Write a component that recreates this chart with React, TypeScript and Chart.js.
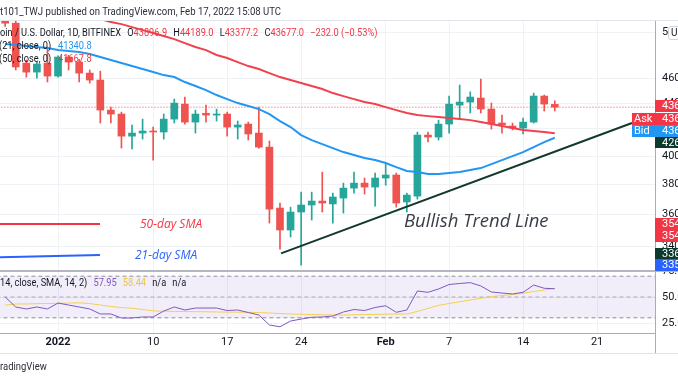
import React, { useEffect, useRef } from "react";
import { Chart, registerables } from "chart.js";

Chart.register(...registerables);

// ---------------- data ----------------
const dates = [
  "2021-12-27", "2021-12-28", "2021-12-29", "2021-12-30", "2021-12-31",
  "2022-01-01", "2022-01-02", "2022-01-03", "2022-01-04", "2022-01-05", "2022-01-06", "2022-01-07",
  "2022-01-08", "2022-01-09", "2022-01-10", "2022-01-11", "2022-01-12", "2022-01-13", "2022-01-14",
  "2022-01-15", "2022-01-16", "2022-01-17", "2022-01-18", "2022-01-19", "2022-01-20", "2022-01-21",
  "2022-01-22", "2022-01-23", "2022-01-24", "2022-01-25", "2022-01-26", "2022-01-27", "2022-01-28",
  "2022-01-29", "2022-01-30", "2022-01-31",
  "2022-02-01", "2022-02-02", "2022-02-03", "2022-02-04", "2022-02-05", "2022-02-06", "2022-02-07",
  "2022-02-08", "2022-02-09", "2022-02-10", "2022-02-11", "2022-02-12", "2022-02-13", "2022-02-14",
  "2022-02-15", "2022-02-16", "2022-02-17",
];

const open = [
  51500, 50800, 47280, 46520, 47280,
  46190, 47800, 47370, 46440, 45860, 43450, 43140,
  41460, 41690, 41840, 41770, 42750, 43920, 42520,
  43200, 43060, 43140, 42140, 42370, 41690, 40650,
  36430, 35020, 36170, 36630, 36890, 36700, 37090,
  37760, 38100, 37830,
  38450, 38660, 36830, 37220, 41540, 41390, 42370,
  43840, 44080, 44400, 43530, 42450, 42220, 42070,
  42520, 44560, 43896.9,
];
const high = [
  52100, 51000, 47540, 47370, 48660,
  47900, 47950, 47600, 46700, 46600, 43680, 43290,
  42300, 42750, 42140, 43140, 44320, 44480, 43450,
  43840, 43530, 43290, 42600, 42520, 43680, 41100,
  36760, 36490, 37490, 37490, 38860, 37420, 38100,
  38860, 38450, 38800,
  39500, 38800, 37420, 41760, 41760, 42670, 44560,
  45450, 44900, 45940, 44000, 43060, 42450, 42830,
  44800, 44640, 44189.0,
];
const low = [
  50500, 46700, 46100, 46020, 45700,
  46100, 46700, 45700, 45610, 42450, 42450, 40580,
  40510, 41240, 39710, 41240, 42450, 42370, 41690,
  42520, 42600, 41460, 41240, 41170, 40580, 35460,
  33840, 34580, 32880, 35650, 36170, 35460, 36100,
  37420, 37360, 36560,
  37960, 36490, 36170, 37020, 41030, 41170, 41690,
  42750, 43220, 43220, 41990, 41690, 41920, 41620,
  42450, 43370, 43377.2,
];
const close = [
  50800, 46950, 46520, 47200, 46190,
  47800, 47370, 46440, 45860, 43450, 43140, 41460,
  41690, 41840, 41770, 42750, 44000, 42520, 43140,
  43060, 43140, 42140, 42300, 41620, 40650, 36360,
  35020, 36170, 36630, 36890, 36760, 37160, 37760,
  38100, 37830, 38450,
  38660, 36760, 37290, 41540, 41390, 42370, 43920,
  44080, 44480, 43530, 42370, 42300, 42070, 42520,
  44560, 43920, 43677.0,
];
const sma21 = [
  48926, 48838, 48750, 48665, 48576,
  48400, 48314, 48228, 48056, 47796, 47540, 47284,
  47028, 46776, 46524, 46272, 46108, 45696, 45368,
  45040, 44640, 44316, 44000, 43764, 43528, 43136,
  42596, 42144, 41540, 41168, 40872, 40580, 40288,
  40072, 39856, 39712,
  39500, 39216, 38936, 38864, 38724, 38724, 38796,
  38864, 39004, 39144, 39428, 39712, 40000, 40288,
  40652, 41020, 41340.8,
];
const sma50 = [
  53628, 53340, 53052, 52768, 52484,
  52200, 51920, 51640, 51360, 51176, 50900, 50716,
  50444, 50172, 49904, 49636, 49368, 49012, 48665,
  48400, 47972, 47712, 47368, 47028, 46776, 46440,
  46108, 45860, 45612, 45368, 45124, 44800, 44556,
  44316, 44080, 43920,
  43684, 43448, 43216, 43060, 42980, 42904, 42828,
  42752, 42672, 42524, 42372, 42220, 42068, 41916,
  41840, 41764, 41667.8,
];
const rsi = [
  50.0, 40.4, 38.5, 40.4, 38.5,
  44.2, 42.3, 40.4, 38.5, 33.7, 33.7, 29.8,
  29.8, 30.8, 30.8, 36.5, 40.4, 37.5, 39.4,
  39.4, 39.4, 37.0, 37.5, 35.1, 32.7, 23.1,
  21.4, 26.9, 28.8, 30.5, 30.8, 31.7, 35.6,
  38.0, 37.0, 39.9,
  41.6, 35.3, 37.5, 55.8, 54.5, 57.7, 62.0,
  63.0, 63.8, 60.6, 54.8, 53.8, 52.9, 54.5,
  61.5, 58.4, 57.95,
];
const rsiSma = [
  42.3, 43.3, 43.3, 43.6, 43.75,
  43.9, 44.2, 44.4, 43.75, 42.3, 40.9, 39.9,
  39.2, 38.0, 36.7, 36.3, 36.2, 36.0, 35.9,
  35.8, 35.6, 35.5, 35.4, 35.3, 35.0, 34.6,
  34.1, 33.7, 33.4, 33.2, 32.9, 32.7, 32.7,
  32.9, 33.1, 33.3,
  33.5, 33.6, 33.7, 36.1, 39.0, 42.0, 43.75,
  45.4, 47.1, 48.75, 50.5, 51.4, 52.4, 53.6,
  55.3, 56.7, 58.44,
];
const rsiLevels = [70, 50, 30];

const priceTicks = [34000, 36000, 38000, 40000, 42000, 44000, 46000, 50000];
const rsiTicks = [25, 50, 75];
const timeTickDates = ["2022-01-01", "2022-01-10", "2022-01-17", "2022-01-24", "2022-02-01", "2022-02-07", "2022-02-14", "2022-02-21"];
const timeTickLabels = ["2022", "10", "17", "24", "Feb", "7", "14", "21"];
const boldTimeLabels = ["2022", "Feb"];

// drawings (day offset from 2022-01-01, price)
const trendLineDays = [21.1, 54.3];
const trendLinePrices = [33580, 42448];
const sma50MarkDays = [-5.7, 3.97];
const sma50MarkPrices = [35396, 35396];
const sma21MarkDays = [-5.7, 3.97];
const sma21MarkPrices = [33340, 33476];

const change = -232.0;
const changePct = -0.53;

// ---------------- styling ----------------
const W = 678;
const H = 381;
const FONT = "Roboto, 'Noto Sans', sans-serif";
const UP = "#26a69a";
const DOWN = "#ef5350";
const GRID = "#eef1f6";
const AXIS = "#a9acb5";
const TEXT = "#131722";
const RED = "#f23645";

const dayNum = (iso: string) => (Date.parse(iso + "T00:00:00Z") - Date.UTC(2022, 0, 1)) / 86400000;
const xs = dates.map(dayNum);
const timeTickDays = timeTickDates.map(dayNum);
const xMin = -5.49;
const xMax = 56.48;

function Txt(props: any) {
  const { x, cy, size, color, italic, weight, sx, family, children } = props;
  return (
    <div
      style={{
        position: "absolute",
        left: x,
        top: cy - size * 0.5,
        fontSize: size,
        lineHeight: `${size}px`,
        height: size,
        color,
        fontStyle: italic ? "italic" : "normal",
        fontWeight: weight ?? 400,
        whiteSpace: "nowrap",
        fontFamily: family ?? FONT,
        transform: sx ? `scaleX(${sx})` : undefined,
        transformOrigin: "0 50%",
      }}
    >
      {children}
    </div>
  );
}

function Box(props: any) {
  const { x, y, w, h, bg, text, pad } = props;
  return (
    <div
      style={{
        position: "absolute",
        left: x,
        top: y,
        width: w,
        height: h,
        background: bg,
        color: "#fff",
        fontSize: 11,
        lineHeight: `${h}px`,
        paddingLeft: pad ?? 7,
        boxSizing: "border-box",
        whiteSpace: "nowrap",
        overflow: "hidden",
        fontFamily: FONT,
      }}
    >
      {text}
    </div>
  );
}

function Rule(props: any) {
  const { x, y, w, h, c } = props;
  return <div style={{ position: "absolute", left: x, top: y, width: w, height: h, background: c }} />;
}

export default function App() {
  const ref = useRef<HTMLCanvasElement>(null);

  useEffect(() => {
    const canvas = ref.current;
    if (!canvas) return;
    const isUp = close.map((c, i) => c >= open[i]);
    const line = (data: any[], color: string, width: number, order: number, extra: any = {}) => ({
      type: "line",
      data,
      borderColor: color,
      borderWidth: width,
      pointRadius: 0,
      tension: 0,
      fill: false,
      order,
      ...extra,
    });
    const lastPrice = close[close.length - 1];
    const datasets: any[] = [
      line(trendLineDays.map((d, i) => ({ x: d, y: trendLinePrices[i] })), "#12392c", 2, 0),
      line(sma50MarkDays.map((d, i) => ({ x: d, y: sma50MarkPrices[i] })), RED, 2, 0),
      line(sma21MarkDays.map((d, i) => ({ x: d, y: sma21MarkPrices[i] })), "#2962ff", 2, 0),
      line(xs.map((x, i) => ({ x, y: sma21[i] })), "#2196f3", 2, 1),
      line(xs.map((x, i) => ({ x, y: sma50[i] })), "#f0414d", 2, 1),
      line([{ x: xMin - 1, y: lastPrice }, { x: xMax + 1, y: lastPrice }], DOWN, 1, 2, { borderDash: [1, 2] }),
      {
        type: "bar",
        data: xs.map((x, i) => ({ x, y: [open[i], close[i]] })),
        backgroundColor: isUp.map((u) => (u ? UP : DOWN)),
        barThickness: 7,
        grouped: false,
        minBarLength: 1,
        order: 5,
      },
      {
        type: "bar",
        data: xs.map((x, i) => ({ x, y: [low[i], high[i]] })),
        backgroundColor: isUp.map((u) => (u ? UP : DOWN)),
        barThickness: 1,
        grouped: false,
        order: 6,
      },
      line(xs.map((x, i) => ({ x, y: rsi[i] })), "#7e57c2", 1, 1, { yAxisID: "rsi" }),
      line(xs.map((x, i) => ({ x, y: rsiSma[i] })), "#f4cf52", 1, 2, { yAxisID: "rsi" }),
      line([{ x: xMin - 1, y: rsiLevels[0] }, { x: xMax + 1, y: rsiLevels[0] }], "#8e919a", 1, 20, {
        yAxisID: "rsi",
        borderDash: [4, 3],
        fill: { value: rsiLevels[2] },
        backgroundColor: "rgba(126,87,194,0.1)",
      }),
      line([{ x: xMin - 1, y: rsiLevels[1] }, { x: xMax + 1, y: rsiLevels[1] }], "#b0b3bb", 1, 20, {
        yAxisID: "rsi",
        borderDash: [4, 3],
      }),
      line([{ x: xMin - 1, y: rsiLevels[2] }, { x: xMax + 1, y: rsiLevels[2] }], "#8e919a", 1, 20, {
        yAxisID: "rsi",
        borderDash: [4, 3],
      }),
    ];

    const chart = new Chart(canvas, {
      type: "bar",
      data: { datasets },
      options: {
        responsive: false,
        maintainAspectRatio: false,
        animation: false,
        devicePixelRatio: 1,
        events: [],
        layout: { autoPadding: false, padding: { top: 21, left: 0, right: 0, bottom: 0 } },
        plugins: { legend: { display: false }, tooltip: { enabled: false } },
        scales: {
          x: {
            type: "linear",
            min: xMin,
            max: xMax,
            offset: false,
            position: "bottom",
            grid: { color: GRID, drawTicks: false, offset: false },
            border: { color: AXIS },
            afterFit: (s: any) => {
              s.height = 48;
            },
            afterBuildTicks: (s: any) => {
              s.ticks = timeTickDays.map((v) => ({ value: v }));
            },
            ticks: {
              autoSkip: false,
              maxRotation: 0,
              padding: 3,
              color: TEXT,
              font: (c: any) => {
                const i = c.index;
                const bold = i != null && boldTimeLabels.includes(timeTickLabels[i]);
                return { family: FONT, size: 11, weight: bold ? "bold" : "normal" };
              },
              callback: (v: any) => {
                const idx = timeTickDays.indexOf(Number(v));
                return idx >= 0 ? timeTickLabels[idx] : "";
              },
            },
          },
          y: {
            type: "logarithmic",
            position: "right",
            min: 32530,
            max: 51000,
            stack: "panes",
            stackWeight: 250,
            grid: { color: GRID, drawTicks: false },
            border: { color: AXIS },
            afterFit: (s: any) => {
              s.width = 23;
            },
            afterBuildTicks: (s: any) => {
              s.ticks = priceTicks.map((v) => ({ value: v }));
            },
            ticks: {
              autoSkip: false,
              padding: 7,
              color: TEXT,
              font: { family: FONT, size: 11 },
              callback: (v: any) => Number(v).toFixed(1),
            },
          },
          rsi: {
            type: "linear",
            position: "right",
            min: 15.4,
            max: 75,
            stack: "panes",
            stackWeight: 62,
            grid: { color: GRID, drawTicks: false },
            border: { color: AXIS },
            afterFit: (s: any) => {
              s.width = 23;
            },
            afterBuildTicks: (s: any) => {
              s.ticks = rsiTicks.map((v) => ({ value: v }));
            },
            ticks: {
              autoSkip: false,
              padding: 7,
              color: TEXT,
              font: { family: FONT, size: 11 },
              callback: (v: any) => Number(v).toFixed(1),
            },
          },
        },
      } as any,
    } as any);
    return () => chart.destroy();
  }, []);

  const n = close.length - 1;
  const dark = "#2a2e39";
  const fmt = (v: number) => v.toFixed(1);
  const minus = (v: number) => (v < 0 ? "\u2212" + Math.abs(v).toFixed(v === changePct ? 2 : 1) : v.toFixed(1));

  return (
    <div
      style={{
        position: "fixed",
        left: 0,
        top: 0,
        width: W,
        height: H,
        overflow: "hidden",
        background: "#fff",
        fontFamily: FONT,
      }}
    >
      <canvas ref={ref} width={W} height={H} style={{ position: "absolute", left: 0, top: 0, width: W, height: H }} />

      {/* frame lines */}
      <Rule x={0} y={20} w={W} h={1} c="#e0e3eb" />
      <Rule x={0} y={270} w={W} h={2} c="#b4b7bf" />
      <Rule x={655} y={333} w={1} h={20} c={AXIS} />
      <Rule x={0} y={353} w={W} h={1} c="#e0e3eb" />

      {/* header */}
      <Txt x={0} cy={11.5} size={11} color={dark} sx={0.87}>
        t101_TWJ published on TradingView.com, Feb 17, 2022 15:08 UTC
      </Txt>

      {/* legend rows */}
      <Txt x={0} cy={33} size={10.5} color={TEXT} sx={0.88}>
        <span>oin / U.S. Dollar, 1D, BITFINEX</span>
        <span style={{ marginLeft: 7 }}>O</span>
        <span style={{ color: RED }}>{fmt(open[n])}</span>
        <span style={{ marginLeft: 7 }}>H</span>
        <span style={{ color: RED }}>{fmt(high[n])}</span>
        <span style={{ marginLeft: 7 }}>L</span>
        <span style={{ color: RED }}>{fmt(low[n])}</span>
        <span style={{ marginLeft: 7 }}>C</span>
        <span style={{ color: RED }}>{fmt(close[n])}</span>
        <span style={{ marginLeft: 7, color: RED }}>
          {minus(change)} ({minus(changePct)}%)
        </span>
      </Txt>
      <Txt x={-1} cy={46} size={10.5} color={TEXT} sx={0.88}>
        (21, close, 0)
      </Txt>
      <Txt x={58} cy={46} size={10.5} color="#2196f3" sx={0.88}>
        {fmt(sma21[n])}
      </Txt>
      <Txt x={-1} cy={59.5} size={10.5} color={TEXT} sx={0.88}>
        (50, close, 0)
      </Txt>
      <Txt x={58} cy={59.5} size={10.5} color={RED} sx={0.88}>
        {fmt(sma50[n])}
      </Txt>

      {/* RSI legend */}
      <Txt x={0} cy={283} size={10.5} color={TEXT} sx={0.88}>
        <span>14, close, SMA, 14, 2)</span>
        <span style={{ marginLeft: 7, color: "#7e57c2" }}>{rsi[n].toFixed(2)}</span>
        <span style={{ marginLeft: 7, color: "#f0c43c" }}>{rsiSma[n].toFixed(2)}</span>
        <span style={{ marginLeft: 7 }}>n/a</span>
        <span style={{ marginLeft: 7 }}>n/a</span>
      </Txt>

      {/* drawing labels */}
      <Txt x={140} cy={224} size={12} color={RED} italic family="'Open Sans', Roboto, sans-serif">
        50-day SMA
      </Txt>
      <Txt x={135} cy={254.5} size={12} color="#2962ff" italic family="'Open Sans', Roboto, sans-serif">
        21-day SMA
      </Txt>
      <Txt x={404} cy={220} size={18.5} color="#3b3e48" italic family="'Open Sans', Roboto, sans-serif">
        Bullish Trend Line
      </Txt>

      {/* price scale labels */}
      <Box x={655} y={100} w={30} h={12} bg={RED} text="43677.0" />
      <Box x={632} y={113} w={23} h={12} bg={RED} text="Ask" pad={2} />
      <Box x={655} y={113} w={30} h={12} bg={RED} text="43677.0" />
      <Box x={632} y={125} w={23} h={12} bg="#2196f3" text="Bid" pad={2} />
      <Box x={655} y={125} w={30} h={12} bg="#2196f3" text="43676.9" />
      <Box x={655} y={137} w={30} h={11} bg="#0c3b2e" text="42628.0" />
      <Box x={655} y={218} w={30} h={12} bg={RED} text="35480.0" />
      <Box x={655} y={230} w={30} h={12} bg={RED} text="35470.0" />
      <Box x={655} y={248} w={30} h={11} bg="#0c3b2e" text="33620.0" />
      <Box x={655} y={259} w={30} h={12} bg="#2962ff" text="33540.0" />
      <div
        style={{
          position: "absolute",
          left: 668,
          top: 26,
          width: 20,
          height: 12,
          border: "1px solid #d1d4dc",
          borderRadius: 3,
          background: "#fff",
          fontSize: 10,
          lineHeight: "12px",
          paddingLeft: 2,
          color: TEXT,
          fontFamily: FONT,
          whiteSpace: "nowrap",
        }}
      >
        USD
      </div>

      {/* footer */}
      <Txt x={0} cy={367.5} size={10.5} color={dark} sx={0.9}>
        radingView
      </Txt>
    </div>
  );
}
